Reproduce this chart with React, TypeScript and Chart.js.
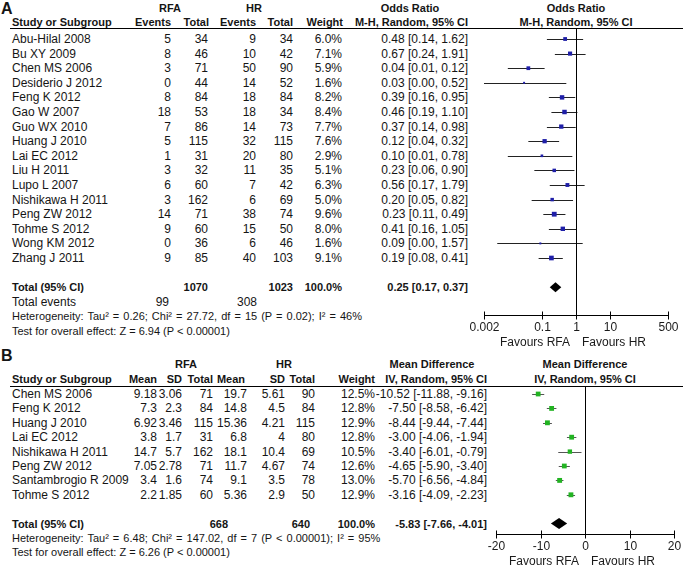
import React, { useEffect, useRef } from "react";
import { Chart, registerables } from "chart.js";
Chart.register(...registerables);

const W = 685;
const H = 566;
const FONT = 'Arial, "Liberation Sans", Helvetica, sans-serif';

// ---------------- Panel A data (Odds Ratio) ----------------
const studiesA = [
  "Abu-Hilal 2008", "Bu XY 2009", "Chen MS 2006", "Desiderio J 2012", "Feng K 2012",
  "Gao W 2007", "Guo WX 2010", "Huang J 2010", "Lai EC 2012", "Liu H 2011",
  "Lupo L 2007", "Nishikawa H 2011", "Peng ZW 2012", "Tohme S 2012", "Wong KM 2012", "Zhang J 2011",
];
const rfaEventsA = [5, 8, 3, 0, 8, 18, 7, 5, 1, 3, 6, 3, 14, 9, 0, 9];
const rfaTotalA = [34, 46, 71, 44, 84, 53, 86, 115, 31, 32, 60, 162, 71, 60, 36, 85];
const hrEventsA = [9, 10, 50, 14, 18, 18, 14, 32, 20, 11, 7, 6, 38, 15, 6, 40];
const hrTotalA = [34, 42, 90, 52, 84, 34, 73, 115, 80, 35, 42, 69, 74, 50, 46, 103];
const weightA = [6.0, 7.1, 5.9, 1.6, 8.2, 8.4, 7.7, 7.6, 2.9, 5.1, 6.3, 5.0, 9.6, 8.0, 1.6, 9.1];
const orA = [0.48, 0.67, 0.04, 0.03, 0.39, 0.46, 0.37, 0.12, 0.10, 0.23, 0.56, 0.20, 0.23, 0.41, 0.09, 0.19];
const loA = [0.14, 0.24, 0.01, 0.0017, 0.16, 0.19, 0.14, 0.04, 0.01, 0.06, 0.17, 0.05, 0.11, 0.16, 0.0049, 0.08];
const hiA = [1.62, 1.91, 0.12, 0.52, 0.95, 1.10, 0.98, 0.32, 0.78, 0.90, 1.79, 0.82, 0.49, 1.05, 1.57, 0.41];
const totalA = { rfaTotal: 1070, hrTotal: 1023, rfaEvents: 99, hrEvents: 308, est: 0.25, lo: 0.17, hi: 0.37 };
const hetA = "Heterogeneity: Tau\u00b2 = 0.26; Chi\u00b2 = 27.72, df = 15 (P = 0.02); I\u00b2 = 46%";
const testA = "Test for overall effect: Z = 6.94 (P < 0.00001)";
const ticksA = [0.002, 0.1, 1, 10, 500];
const tickLabelsA = ["0.002", "0.1", "1", "10", "500"];

// ---------------- Panel B data (Mean Difference) ----------------
const studiesB = [
  "Chen MS 2006", "Feng K 2012", "Huang J 2010", "Lai EC 2012",
  "Nishikawa H 2011", "Peng ZW 2012", "Santambrogio R 2009", "Tohme S 2012",
];
const rfaMeanB = [9.18, 7.3, 6.92, 3.8, 14.7, 7.05, 3.4, 2.2];
const rfaSdB = [3.06, 2.3, 3.46, 1.7, 5.7, 2.78, 1.6, 1.85];
const rfaTotalB = [71, 84, 115, 31, 162, 71, 74, 60];
const hrMeanB = [19.7, 14.8, 15.36, 6.8, 18.1, 11.7, 9.1, 5.36];
const hrSdB = [5.61, 4.5, 4.21, 4, 10.4, 4.67, 3.5, 2.9];
const hrTotalB = [90, 84, 115, 80, 69, 74, 78, 50];
const weightB = [12.5, 12.8, 12.9, 12.8, 10.5, 12.6, 13.0, 12.9];
const mdB = [-10.52, -7.5, -8.44, -3.0, -3.4, -4.65, -5.7, -3.16];
const loB = [-11.88, -8.58, -9.44, -4.06, -6.01, -5.9, -6.56, -4.09];
const hiB = [-9.16, -6.42, -7.44, -1.94, -0.79, -3.4, -4.84, -2.23];
const totalB = { rfaTotal: 668, hrTotal: 640, est: -5.83, lo: -7.66, hi: -4.01 };
const hetB = "Heterogeneity: Tau\u00b2 = 6.48; Chi\u00b2 = 147.02, df = 7 (P < 0.00001); I\u00b2 = 95%";
const testB = "Test for overall effect: Z = 6.26 (P < 0.00001)";
const ticksB = [-20, -10, 0, 10, 20];
const tickLabelsB = ["-20", "-10", "0", "10", "20"];

// ---------------- layout constants ----------------
const ROW0_A = 39;
const ROWH_A = 14.6;
const ROW0_B = 394;
const ROWH_B = 14.4;
const BOLD = 11;

type TxtProps = { x: number; y: number; a?: "l" | "r" | "c"; b?: boolean; s?: number; ws?: number; children: React.ReactNode };
function Txt({ x, y, a = "l", b = false, s, ws = 0, children }: TxtProps) {
  const style: React.CSSProperties = {
    position: "absolute",
    top: y - 8,
    height: 16,
    lineHeight: "16px",
    fontSize: s ?? (b ? BOLD : 12),
    fontWeight: b ? "bold" : "normal",
    whiteSpace: "nowrap",
    wordSpacing: ws,
    color: "#151515",
  };
  if (a === "l") style.left = x;
  else if (a === "r") style.right = W - x;
  else {
    style.left = x;
    style.transform = "translateX(-50%)";
  }
  return <div style={style}>{children}</div>;
}

function HLine({ x0, x1, y }: { x0: number; x1: number; y: number }) {
  return <div style={{ position: "absolute", left: x0, top: y, width: x1 - x0, height: 1, background: "#000" }} />;
}

type ForestProps = {
  left: number; top: number; width: number; height: number;
  area: { x0: number; x1: number; y0: number; y1: number };
  xType: "logarithmic" | "linear";
  xMin: number; xMax: number; ref: number;
  row0: number; rowH: number;
  est: number[]; lo: number[]; hi: number[]; wt: number[];
  sizeK: number; color: string; whisker: string;
  total: { est: number; lo: number; hi: number }; totalRow: number; diamondH: number;
  ticks: number[]; tickLabels: string[];
};

function Forest(p: ForestProps) {
  const ref = useRef<HTMLCanvasElement | null>(null);
  useEffect(() => {
    const canvas = ref.current;
    if (!canvas) return;
    const padding = {
      left: p.area.x0 - p.left,
      right: p.left + p.width - p.area.x1,
      top: p.area.y0 - p.top,
      bottom: p.top + p.height - p.area.y1,
    };
    const yMin = (p.area.y0 - p.row0) / p.rowH;
    const yMax = (p.area.y1 - p.row0) / p.rowH;

    const forestPlugin = {
      id: "forest",
      beforeDatasetsDraw(chart: any) {
        const { ctx, chartArea: ca } = chart;
        const x = chart.scales.x;
        const y = chart.scales.y;
        ctx.save();
        ctx.beginPath();
        ctx.rect(ca.left, ca.top - 2, ca.right - ca.left, ca.bottom - ca.top + 4);
        ctx.clip();
        ctx.strokeStyle = p.whisker;
        ctx.lineWidth = 1;
        p.lo.forEach((l, i) => {
          const py = Math.round(y.getPixelForValue(i)) + 0.5;
          ctx.beginPath();
          ctx.moveTo(x.getPixelForValue(l), py);
          ctx.lineTo(x.getPixelForValue(p.hi[i]), py);
          ctx.stroke();
        });
        ctx.restore();
        const px = Math.round(x.getPixelForValue(p.ref)) + 0.5;
        ctx.save();
        ctx.strokeStyle = "#000";
        ctx.lineWidth = 1;
        ctx.beginPath();
        ctx.moveTo(px, ca.top);
        ctx.lineTo(px, ca.bottom);
        ctx.stroke();
        ctx.restore();
      },
      afterDatasetsDraw(chart: any) {
        const { ctx, chartArea: ca } = chart;
        const x = chart.scales.x;
        const y = chart.scales.y;
        const dy = y.getPixelForValue(p.totalRow);
        const hh = p.diamondH / 2;
        ctx.save();
        ctx.fillStyle = "#000";
        ctx.beginPath();
        ctx.moveTo(x.getPixelForValue(p.total.lo), dy);
        ctx.lineTo(x.getPixelForValue(p.total.est), dy - hh);
        ctx.lineTo(x.getPixelForValue(p.total.hi), dy);
        ctx.lineTo(x.getPixelForValue(p.total.est), dy + hh);
        ctx.closePath();
        ctx.fill();
        const by = Math.round(ca.bottom) + 0.5;
        ctx.strokeStyle = "#000";
        ctx.lineWidth = 1;
        ctx.beginPath();
        ctx.moveTo(x.getPixelForValue(p.ticks[0]), by);
        ctx.lineTo(x.getPixelForValue(p.ticks[p.ticks.length - 1]), by);
        ctx.stroke();
        ctx.fillStyle = "#1a1a1a";
        ctx.font = `12px ${FONT}`;
        ctx.textAlign = "center";
        ctx.textBaseline = "middle";
        p.ticks.forEach((t, i) => {
          const tx = Math.round(x.getPixelForValue(t)) + 0.5;
          ctx.beginPath();
          ctx.moveTo(tx, by - 4);
          ctx.lineTo(tx, by + 4);
          ctx.stroke();
          ctx.fillText(p.tickLabels[i], tx, by + 12);
        });
        const rx = x.getPixelForValue(p.ref);
        ctx.textAlign = "right";
        ctx.fillText("Favours RFA", rx - 6, by + 27);
        ctx.textAlign = "left";
        ctx.fillText("Favours HR", rx + 6, by + 27);
        ctx.restore();
      },
    };

    const chart = new Chart(canvas, {
      type: "scatter",
      data: {
        datasets: [
          {
            data: p.est.map((v, i) => ({ x: v, y: i })),
            pointStyle: "rect",
            pointRadius: p.wt.map((w) => (p.sizeK * Math.sqrt(w)) / Math.SQRT2),
            pointHoverRadius: p.wt.map((w) => (p.sizeK * Math.sqrt(w)) / Math.SQRT2),
            backgroundColor: p.color,
            borderWidth: 0,
          },
        ],
      },
      options: {
        animation: false,
        responsive: false,
        maintainAspectRatio: false,
        events: [],
        layout: { padding },
        plugins: { legend: { display: false }, tooltip: { enabled: false } },
        scales: {
          x: { type: p.xType, min: p.xMin, max: p.xMax, display: false },
          y: { type: "linear", min: yMin, max: yMax, reverse: true, display: false },
        },
      } as any,
      plugins: [forestPlugin],
    });
    return () => chart.destroy();
  }, []);
  return (
    <canvas
      ref={ref}
      width={p.width}
      height={p.height}
      style={{ position: "absolute", left: p.left, top: p.top, width: p.width, height: p.height }}
    />
  );
}

const fmt2 = (v: number) => v.toFixed(2);

export default function App() {
  const rowA = (i: number) => ROW0_A + i * ROWH_A;
  const rowB = (i: number) => ROW0_B + i * ROWH_B;
  return (
    <div
      style={{
        position: "absolute",
        left: 0,
        top: 0,
        width: W,
        height: H,
        background: "#fff",
        fontFamily: FONT,
        overflow: "hidden",
      }}
    >
      {/* ---------- Panel A ---------- */}
      <Txt x={1} y={9} b s={16}>A</Txt>
      <Txt x={170} y={8} a="c" b>RFA</Txt>
      <Txt x={254} y={8} a="c" b>HR</Txt>
      <Txt x={410} y={8} a="c" b>Odds Ratio</Txt>
      <Txt x={576} y={8} a="c" b>Odds Ratio</Txt>
      <Txt x={12} y={22} b>Study or Subgroup</Txt>
      <Txt x={171} y={22} a="r" b>Events</Txt>
      <Txt x={209} y={22} a="r" b>Total</Txt>
      <Txt x={256} y={22} a="r" b>Events</Txt>
      <Txt x={293} y={22} a="r" b>Total</Txt>
      <Txt x={343} y={22} a="r" b>Weight</Txt>
      <Txt x={468} y={22} a="r" b>M-H, Random, 95% CI</Txt>
      <Txt x={576} y={22} a="c" b>M-H, Random, 95% CI</Txt>
      <HLine x0={10} x1={683} y={28} />
      {studiesA.map((s, i) => (
        <React.Fragment key={"a" + i}>
          <Txt x={12} y={rowA(i)}>{s}</Txt>
          <Txt x={171} y={rowA(i)} a="r">{String(rfaEventsA[i])}</Txt>
          <Txt x={208} y={rowA(i)} a="r">{String(rfaTotalA[i])}</Txt>
          <Txt x={256} y={rowA(i)} a="r">{String(hrEventsA[i])}</Txt>
          <Txt x={293} y={rowA(i)} a="r">{String(hrTotalA[i])}</Txt>
          <Txt x={342} y={rowA(i)} a="r">{weightA[i].toFixed(1) + "%"}</Txt>
          <Txt x={468} y={rowA(i)} a="r">{`${fmt2(orA[i])} [${fmt2(loA[i])}, ${fmt2(hiA[i])}]`}</Txt>
        </React.Fragment>
      ))}
      <Txt x={12} y={rowA(17)} b>Total (95% CI)</Txt>
      <Txt x={208} y={rowA(17)} a="r" b>{String(totalA.rfaTotal)}</Txt>
      <Txt x={293} y={rowA(17)} a="r" b>{String(totalA.hrTotal)}</Txt>
      <Txt x={342} y={rowA(17)} a="r" b>100.0%</Txt>
      <Txt x={468} y={rowA(17)} a="r" b>{`${fmt2(totalA.est)} [${fmt2(totalA.lo)}, ${fmt2(totalA.hi)}]`}</Txt>
      <Txt x={12} y={rowA(18)}>Total events</Txt>
      <Txt x={169} y={rowA(18)} a="r">{String(totalA.rfaEvents)}</Txt>
      <Txt x={257} y={rowA(18)} a="r">{String(totalA.hrEvents)}</Txt>
      <Txt x={12} y={rowA(19)} s={11} ws={1}>{hetA}</Txt>
      <Txt x={12} y={rowA(20)} s={11}>{testA}</Txt>
      <Forest
        left={470} top={0} width={215} height={352}
        area={{ x0: 484, x1: 668, y0: 29, y1: 315 }}
        xType="logarithmic" xMin={0.002} xMax={500} ref={1}
        row0={ROW0_A} rowH={ROWH_A}
        est={orA} lo={loA} hi={hiA} wt={weightA}
        sizeK={1.55} color="#1f1fa8" whisker="#222"
        total={totalA} totalRow={17} diamondH={10}
        ticks={ticksA} tickLabels={tickLabelsA}
      />

      {/* ---------- Panel B ---------- */}
      <Txt x={1} y={356} b s={16}>B</Txt>
      <Txt x={186} y={364} a="c" b>RFA</Txt>
      <Txt x={284} y={364} a="c" b>HR</Txt>
      <Txt x={432} y={364} a="c" b>Mean Difference</Txt>
      <Txt x={585} y={364} a="c" b>Mean Difference</Txt>
      <Txt x={12} y={379} b>Study or Subgroup</Txt>
      <Txt x={157} y={379} a="r" b>Mean</Txt>
      <Txt x={182} y={379} a="r" b>SD</Txt>
      <Txt x={213} y={379} a="r" b>Total</Txt>
      <Txt x={245} y={379} a="r" b>Mean</Txt>
      <Txt x={285} y={379} a="r" b>SD</Txt>
      <Txt x={315} y={379} a="r" b>Total</Txt>
      <Txt x={375} y={379} a="r" b>Weight</Txt>
      <Txt x={487} y={379} a="r" b>IV, Random, 95% CI</Txt>
      <Txt x={585} y={379} a="c" b>IV, Random, 95% CI</Txt>
      <HLine x0={10} x1={683} y={386} />
      {studiesB.map((s, i) => (
        <React.Fragment key={"b" + i}>
          <Txt x={12} y={rowB(i)}>{s}</Txt>
          <Txt x={157} y={rowB(i)} a="r">{String(rfaMeanB[i])}</Txt>
          <Txt x={182} y={rowB(i)} a="r">{String(rfaSdB[i])}</Txt>
          <Txt x={213} y={rowB(i)} a="r">{String(rfaTotalB[i])}</Txt>
          <Txt x={247} y={rowB(i)} a="r">{String(hrMeanB[i])}</Txt>
          <Txt x={285} y={rowB(i)} a="r">{String(hrSdB[i])}</Txt>
          <Txt x={315} y={rowB(i)} a="r">{String(hrTotalB[i])}</Txt>
          <Txt x={375} y={rowB(i)} a="r">{weightB[i].toFixed(1) + "%"}</Txt>
          <Txt x={487} y={rowB(i)} a="r">{`${fmt2(mdB[i])} [${fmt2(loB[i])}, ${fmt2(hiB[i])}]`}</Txt>
        </React.Fragment>
      ))}
      <Txt x={12} y={rowB(9)} b>Total (95% CI)</Txt>
      <Txt x={228} y={rowB(9)} a="r" b>{String(totalB.rfaTotal)}</Txt>
      <Txt x={310} y={rowB(9)} a="r" b>{String(totalB.hrTotal)}</Txt>
      <Txt x={375} y={rowB(9)} a="r" b>100.0%</Txt>
      <Txt x={487} y={rowB(9)} a="r" b>{`${fmt2(totalB.est)} [${fmt2(totalB.lo)}, ${fmt2(totalB.hi)}]`}</Txt>
      <Txt x={12} y={rowB(10)} s={11} ws={1}>{hetB}</Txt>
      <Txt x={12} y={rowB(11)} s={11}>{testB}</Txt>
      <Forest
        left={470} top={370} width={215} height={196}
        area={{ x0: 496, x1: 674, y0: 387, y1: 534 }}
        xType="linear" xMin={-20} xMax={20} ref={0}
        row0={ROW0_B} rowH={ROWH_B}
        est={mdB} lo={loB} hi={hiB} wt={weightB}
        sizeK={1.35} color="#22b322" whisker="#555"
        total={totalB} totalRow={9} diamondH={11}
        ticks={ticksB} tickLabels={tickLabelsB}
      />
    </div>
  );
}
